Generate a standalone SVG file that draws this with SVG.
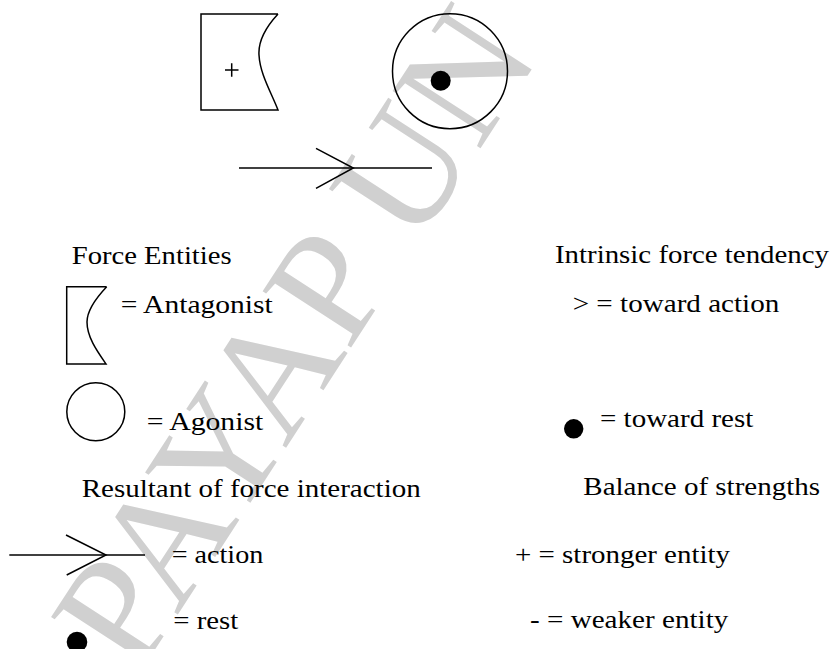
<svg xmlns="http://www.w3.org/2000/svg" width="834" height="649" viewBox="0 0 834 649">
  <style>
    .ln { fill: none; stroke: #000; stroke-width: 1.5; stroke-linejoin: miter; }
    .dot { fill: #000; }
    text { font-family: 'Liberation Serif', 'Times New Roman', serif; }
    .t { font-size: 25px; fill: #000; }
    .wm { font-size: 160px; fill: #d0d0d0; }
  </style>
  <rect width="834" height="649" fill="#fff"/>

  <!-- background watermark -->
  <text class="wm" transform="translate(136.5,678) rotate(-57)">PAYAP UN</text>

  <!-- example configuration: antagonist (+), agonist with rest tendency, resultant -->
  <g id="antagonist">
    <path class="ln" d="M278,14 L201,14 L201,110 L278,110 C271,92 260,74 259,55 C258,40 266,27 278,14"/>
    <path class="ln" d="M225,70 H238.5 M231.7,63.3 V76.7" stroke-width="1.2"/>
  </g>
  <g id="agonist">
    <circle class="ln" cx="450" cy="71.2" r="57.5"/>
    <circle class="dot" cx="440.7" cy="80.7" r="10"/>
  </g>
  <g id="connectors">
    <path class="ln" d="M239,168 H432"/>
    <path class="ln" d="M316,148.3 L353.3,168 L316,188.3"/>
  </g>

  <!-- legend: force entities -->
  <g id="legend-entities">
    <text class="t" x="71.7" y="264.3" textLength="160" lengthAdjust="spacingAndGlyphs">Force Entities</text>
    <path class="ln" d="M106.7,286.7 L66.7,286.7 L66.7,364 L106,364 C97,351 87,337 87,322 C87,310 96,298 106.7,286.7"/>
    <text class="t" x="120.7" y="313.3" textLength="152" lengthAdjust="spacingAndGlyphs">= Antagonist</text>
    <circle class="ln" cx="95.8" cy="411.7" r="29"/>
    <text class="t" x="146.7" y="430.3" textLength="116.6" lengthAdjust="spacingAndGlyphs">= Agonist</text>
  </g>

  <!-- legend: resultant -->
  <g id="legend-resultant">
    <text class="t" x="81.7" y="497" textLength="339" lengthAdjust="spacingAndGlyphs">Resultant of force interaction</text>
    <path class="ln" d="M9.3,555 H145"/>
    <path class="ln" d="M66,535 L106,555 L66.7,575"/>
    <text class="t" x="171.7" y="562.5" textLength="91.6" lengthAdjust="spacingAndGlyphs">= action</text>
    <circle class="dot" cx="77" cy="642" r="10.3"/>
    <text class="t" x="173.3" y="629" textLength="65" lengthAdjust="spacingAndGlyphs">= rest</text>
  </g>

  <!-- legend: intrinsic tendency -->
  <g id="legend-tendency">
    <text class="t" x="555" y="263.3" textLength="274" lengthAdjust="spacingAndGlyphs">Intrinsic force tendency</text>
    <text class="t" x="572.7" y="311.7" textLength="206.6" lengthAdjust="spacingAndGlyphs">&gt; = toward action</text>
    <circle class="dot" cx="573.7" cy="428.8" r="9.7"/>
    <text class="t" x="600" y="426.7" textLength="153.3" lengthAdjust="spacingAndGlyphs">= toward rest</text>
  </g>

  <!-- legend: balance of strengths -->
  <g id="legend-balance">
    <text class="t" x="583.3" y="495" textLength="236.7" lengthAdjust="spacingAndGlyphs">Balance of strengths</text>
    <text class="t" x="515" y="563.3" textLength="215" lengthAdjust="spacingAndGlyphs">+ = stronger entity</text>
    <text class="t" x="530" y="628.3" textLength="198.3" lengthAdjust="spacingAndGlyphs">- = weaker entity</text>
  </g>
</svg>
